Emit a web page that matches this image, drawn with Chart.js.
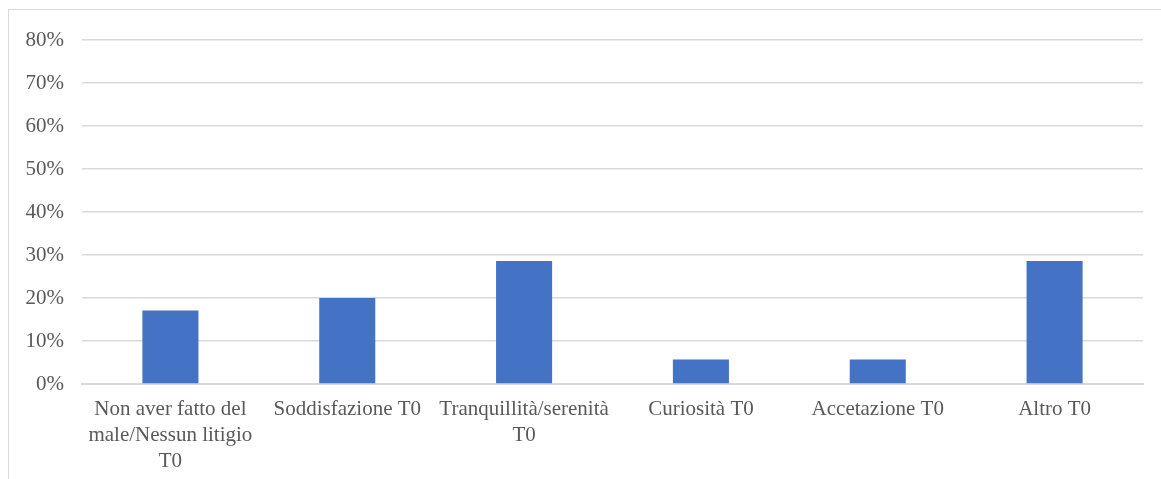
<!DOCTYPE html>
<html>
<head>
<meta charset="utf-8">
<script src="https://cdn.jsdelivr.net/npm/chart.js@4.4.1/dist/chart.umd.min.js"></script>
<style>
  html, body { margin: 0; padding: 0; background: #fff; }
  body { width: 1161px; height: 479px; position: relative; overflow: hidden; }
  #frame { position: absolute; left: 8px; top: 9px; width: 1160px; height: 480px;
           border: 1px solid #d9d9d9; box-sizing: border-box; }
  #wrap { position: absolute; left: 0; top: 0; width: 1161px; height: 479px; }
</style>
</head>
<body>
<div id="frame"></div>
<div id="wrap"><canvas id="chart" width="1161" height="479"></canvas></div>
<script>
// Category labels (multi-line where the text wraps)
const categories = [
  ["Non aver fatto del", "male/Nessun litigio", "T0"],
  "Soddisfazione T0",
  ["Tranquillità/serenità", "T0"],
  "Curiosità T0",
  "Accetazione T0",
  "Altro T0"
];
// Share of responses per category
const values = [0.171, 0.200, 0.286, 0.057, 0.057, 0.286];
// Y axis range
const yMin = 0;
const yMax = 0.8;
const yStep = 0.1;

const textColor = '#595959';
const gridColor = '#d9d9d9';
const font = { family: '"Liberation Serif", "Times New Roman", serif', size: 21, lineHeight: 1.24 };

new Chart(document.getElementById('chart'), {
  type: 'bar',
  data: {
    labels: categories,
    datasets: [{
      data: values,
      backgroundColor: '#4472C4',
      borderWidth: 0,
      categoryPercentage: 1,
      barPercentage: 0.317
    }]
  },
  options: {
    responsive: false,
    animation: false,
    layout: { padding: { left: 0, right: 18, top: 40, bottom: 0 } },
    plugins: { legend: { display: false }, tooltip: { enabled: false } },
    scales: {
      x: {
        grid: { display: false, drawTicks: false },
        border: { display: true, color: gridColor, width: 2 },
        ticks: { color: textColor, font: font, padding: 12, maxRotation: 0, autoSkip: false },
        afterFit: (s) => { s.height = 95; }
      },
      y: {
        min: yMin, max: yMax,
        grid: { color: gridColor, lineWidth: 1.5, drawTicks: false },
        border: { display: false },
        ticks: {
          stepSize: yStep, color: textColor, font: font, padding: 18,
          callback: (v) => Math.round(v * 100) + '%'
        },
        afterFit: (s) => { s.width = 82; }
      }
    }
  }
});
</script>
</body>
</html>
